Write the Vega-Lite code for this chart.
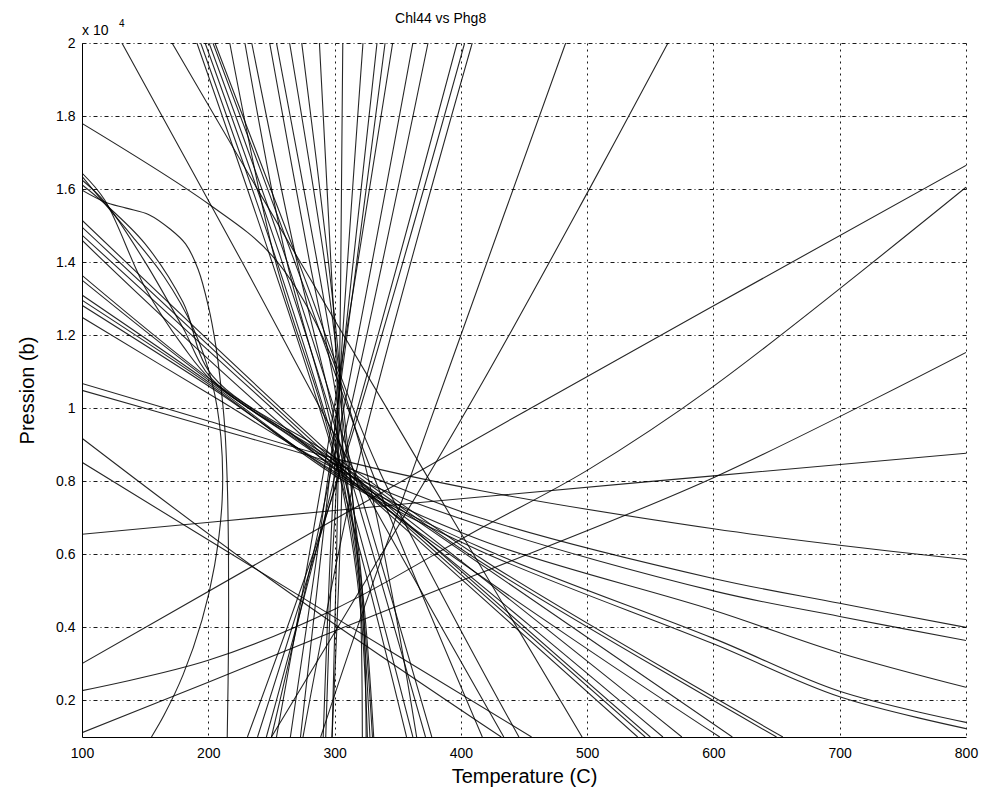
{
"$schema":"https://vega.github.io/schema/vega-lite/v6.json",
"width":884,"height":694,
"autosize":{"type":"none"},
"padding":{"left":82,"top":43,"right":16,"bottom":59},
"background":"white",
"config":{"view":{"stroke":null},
"axis":{"domainColor":"#000","domainWidth":1,"labelColor":"#000","titleColor":"#000","labelFont":"Liberation Sans","titleFont":"Liberation Sans","labelFontSize":14,"titleFontSize":20,"titleFontWeight":"normal","ticks":false,"grid":true,"gridColor":"#000","gridOpacity":0.9,"gridWidth":1,"labelFlush":false}},
"data":{"values":[
{"s":"D1","i":0,"T":100,"P":0.301},{"s":"D1","i":1,"T":450,"P":0.99},{"s":"D1","i":2,"T":800,"P":1.665},
{"s":"D2","i":0,"T":100,"P":0.227},{"s":"D2","i":1,"T":200,"P":0.31},{"s":"D2","i":2,"T":300,"P":0.45},{"s":"D2","i":3,"T":415,"P":0.67},{"s":"D2","i":4,"T":500,"P":0.83},{"s":"D2","i":5,"T":600,"P":1.06},{"s":"D2","i":6,"T":800,"P":1.605},
{"s":"D3","i":0,"T":100,"P":0.112},{"s":"D3","i":1,"T":200,"P":0.25},{"s":"D3","i":2,"T":300,"P":0.39},{"s":"D3","i":3,"T":415,"P":0.548},{"s":"D3","i":4,"T":600,"P":0.81},{"s":"D3","i":5,"T":800,"P":1.153},
{"s":"D4","i":0,"T":100,"P":0.655},{"s":"D4","i":1,"T":300,"P":0.72},{"s":"D4","i":2,"T":415,"P":0.757},{"s":"D4","i":3,"T":600,"P":0.815},{"s":"D4","i":4,"T":800,"P":0.877},
{"s":"R1","i":0,"T":289,"P":0.1},{"s":"R1","i":1,"T":322,"P":0.44},{"s":"R1","i":2,"T":400,"P":1.2},{"s":"R1","i":3,"T":483,"P":2.0},
{"s":"R2","i":0,"T":250,"P":0.1},{"s":"R2","i":1,"T":325,"P":0.53},{"s":"R2","i":2,"T":415,"P":1.058},{"s":"R2","i":3,"T":500,"P":1.589},{"s":"R2","i":4,"T":564,"P":2.0},
{"s":"B1","i":0,"T":298,"P":0.1},{"s":"B1","i":1,"T":303,"P":0.84},{"s":"B1","i":2,"T":306.5,"P":2.0},
{"s":"B2","i":0,"T":291,"P":0.1},{"s":"B2","i":1,"T":300,"P":0.84},{"s":"B2","i":2,"T":322.5,"P":2.0},
{"s":"B3","i":0,"T":273,"P":0.1},{"s":"B3","i":1,"T":297,"P":0.84},{"s":"B3","i":2,"T":333.6,"P":2.0},
{"s":"B4","i":0,"T":265,"P":0.1},{"s":"B4","i":1,"T":296,"P":0.84},{"s":"B4","i":2,"T":340,"P":2.0},
{"s":"B5","i":0,"T":254,"P":0.1},{"s":"B5","i":1,"T":292,"P":0.84},{"s":"B5","i":2,"T":346,"P":2.0},
{"s":"B6","i":0,"T":250,"P":0.1},{"s":"B6","i":1,"T":298,"P":0.84},{"s":"B6","i":2,"T":362,"P":2.0},
{"s":"B7","i":0,"T":246,"P":0.1},{"s":"B7","i":1,"T":302,"P":0.84},{"s":"B7","i":2,"T":374,"P":2.0},
{"s":"B8","i":0,"T":239,"P":0.1},{"s":"B8","i":1,"T":305,"P":0.84},{"s":"B8","i":2,"T":397,"P":2.0},
{"s":"B9","i":0,"T":231,"P":0.1},{"s":"B9","i":1,"T":306,"P":0.84},{"s":"B9","i":2,"T":403,"P":2.0},
{"s":"B10","i":0,"T":275,"P":0.1},{"s":"B10","i":1,"T":318,"P":0.84},{"s":"B10","i":2,"T":409,"P":2.0},
{"s":"A1","i":0,"T":131.6,"P":2.0},{"s":"A1","i":1,"T":226,"P":1.405},{"s":"A1","i":2,"T":320,"P":0.8},{"s":"A1","i":3,"T":434,"P":0.1},
{"s":"A2","i":0,"T":171.3,"P":2.0},{"s":"A2","i":1,"T":272,"P":1.405},{"s":"A2","i":2,"T":496,"P":0.1},
{"s":"A3","i":0,"T":191,"P":2.0},{"s":"A3","i":1,"T":250,"P":1.405},{"s":"A3","i":2,"T":302,"P":0.84},{"s":"A3","i":3,"T":357,"P":0.1},
{"s":"A4","i":0,"T":194,"P":2.0},{"s":"A4","i":1,"T":254,"P":1.405},{"s":"A4","i":2,"T":305,"P":0.84},{"s":"A4","i":3,"T":362,"P":0.1},
{"s":"A5","i":0,"T":197.5,"P":2.0},{"s":"A5","i":1,"T":258,"P":1.405},{"s":"A5","i":2,"T":310,"P":0.84},{"s":"A5","i":3,"T":372,"P":0.1},
{"s":"A6","i":0,"T":200.6,"P":2.0},{"s":"A6","i":1,"T":262,"P":1.405},{"s":"A6","i":2,"T":314,"P":0.84},{"s":"A6","i":3,"T":377,"P":0.1},
{"s":"A7","i":0,"T":203.7,"P":2.0},{"s":"A7","i":1,"T":268,"P":1.405},{"s":"A7","i":2,"T":328,"P":0.84},{"s":"A7","i":3,"T":417,"P":0.1},
{"s":"A8","i":0,"T":205.3,"P":2.0},{"s":"A8","i":1,"T":271,"P":1.405},{"s":"A8","i":2,"T":334,"P":0.84},{"s":"A8","i":3,"T":446,"P":0.1},
{"s":"A9","i":0,"T":217,"P":2.0},{"s":"A9","i":1,"T":253,"P":1.405},{"s":"A9","i":2,"T":290,"P":1.0},{"s":"A9","i":3,"T":305,"P":0.8},{"s":"A9","i":4,"T":320,"P":0.47},{"s":"A9","i":5,"T":326,"P":0.1},
{"s":"A10","i":0,"T":229,"P":2.0},{"s":"A10","i":1,"T":262,"P":1.405},{"s":"A10","i":2,"T":294,"P":1.0},{"s":"A10","i":3,"T":307,"P":0.8},{"s":"A10","i":4,"T":321,"P":0.47},{"s":"A10","i":5,"T":328,"P":0.1},
{"s":"A11","i":0,"T":234.4,"P":2.0},{"s":"A11","i":1,"T":270,"P":1.405},{"s":"A11","i":2,"T":298,"P":1.0},{"s":"A11","i":3,"T":309,"P":0.8},{"s":"A11","i":4,"T":322,"P":0.47},{"s":"A11","i":5,"T":330,"P":0.1},
{"s":"A12","i":0,"T":248.6,"P":2.0},{"s":"A12","i":1,"T":280,"P":1.405},{"s":"A12","i":2,"T":300,"P":1.06},{"s":"A12","i":3,"T":310,"P":0.8},{"s":"A12","i":4,"T":323,"P":0.47},{"s":"A12","i":5,"T":331,"P":0.1},
{"s":"A13","i":0,"T":254,"P":2.0},{"s":"A13","i":1,"T":286,"P":1.405},{"s":"A13","i":2,"T":303,"P":1.06},{"s":"A13","i":3,"T":311,"P":0.84},{"s":"A13","i":4,"T":322,"P":0.5},{"s":"A13","i":5,"T":325,"P":0.1},
{"s":"A14","i":0,"T":264.4,"P":2.0},{"s":"A14","i":1,"T":292,"P":1.405},{"s":"A14","i":2,"T":305,"P":1.06},{"s":"A14","i":3,"T":312,"P":0.84},{"s":"A14","i":4,"T":320,"P":0.5},{"s":"A14","i":5,"T":322,"P":0.1},
{"s":"A15","i":0,"T":274,"P":2.0},{"s":"A15","i":1,"T":295,"P":1.405},{"s":"A15","i":2,"T":305,"P":1.06},{"s":"A15","i":3,"T":306,"P":0.84},{"s":"A15","i":4,"T":303,"P":0.5},{"s":"A15","i":5,"T":298,"P":0.1},
{"s":"A16","i":0,"T":288,"P":2.0},{"s":"A16","i":1,"T":297,"P":1.405},{"s":"A16","i":2,"T":302,"P":1.06},{"s":"A16","i":3,"T":302,"P":0.84},{"s":"A16","i":4,"T":297,"P":0.5},{"s":"A16","i":5,"T":293,"P":0.1},
{"s":"C1","i":0,"T":100,"P":1.364},{"s":"C1","i":1,"T":205,"P":1.07},{"s":"C1","i":2,"T":303,"P":0.84},{"s":"C1","i":3,"T":575,"P":0.1},
{"s":"C2","i":0,"T":100,"P":1.351},{"s":"C2","i":1,"T":205,"P":1.065},{"s":"C2","i":2,"T":303,"P":0.83},{"s":"C2","i":3,"T":560,"P":0.1},
{"s":"C3","i":0,"T":100,"P":1.515},{"s":"C3","i":1,"T":303,"P":0.855},{"s":"C3","i":2,"T":550,"P":0.1},
{"s":"C4","i":0,"T":100,"P":1.496},{"s":"C4","i":1,"T":303,"P":0.845},{"s":"C4","i":2,"T":546,"P":0.1},
{"s":"C5","i":0,"T":100,"P":1.474},{"s":"C5","i":1,"T":303,"P":0.835},{"s":"C5","i":2,"T":540,"P":0.1},
{"s":"C6","i":0,"T":100,"P":1.46},{"s":"C6","i":1,"T":303,"P":0.825},{"s":"C6","i":2,"T":605,"P":0.1},
{"s":"C7","i":0,"T":100,"P":1.31},{"s":"C7","i":1,"T":205,"P":1.06},{"s":"C7","i":2,"T":303,"P":0.815},{"s":"C7","i":3,"T":415,"P":0.62},{"s":"C7","i":4,"T":600,"P":0.37},{"s":"C7","i":5,"T":700,"P":0.225},{"s":"C7","i":6,"T":800,"P":0.14},
{"s":"C8","i":0,"T":100,"P":1.296},{"s":"C8","i":1,"T":205,"P":1.055},{"s":"C8","i":2,"T":303,"P":0.81},{"s":"C8","i":3,"T":415,"P":0.61},{"s":"C8","i":4,"T":600,"P":0.355},{"s":"C8","i":5,"T":700,"P":0.21},{"s":"C8","i":6,"T":800,"P":0.123},
{"s":"C9","i":0,"T":100,"P":1.282},{"s":"C9","i":1,"T":205,"P":1.05},{"s":"C9","i":2,"T":303,"P":0.82},{"s":"C9","i":3,"T":415,"P":0.64},{"s":"C9","i":4,"T":600,"P":0.447},{"s":"C9","i":5,"T":700,"P":0.33},{"s":"C9","i":6,"T":800,"P":0.236},
{"s":"C10","i":0,"T":100,"P":1.249},{"s":"C10","i":1,"T":205,"P":1.03},{"s":"C10","i":2,"T":303,"P":0.83},{"s":"C10","i":3,"T":415,"P":0.68},{"s":"C10","i":4,"T":600,"P":0.5},{"s":"C10","i":5,"T":700,"P":0.43},{"s":"C10","i":6,"T":800,"P":0.364},
{"s":"C11","i":0,"T":100,"P":1.049},{"s":"C11","i":1,"T":200,"P":0.95},{"s":"C11","i":2,"T":303,"P":0.845},{"s":"C11","i":3,"T":415,"P":0.7},{"s":"C11","i":4,"T":600,"P":0.534},{"s":"C11","i":5,"T":700,"P":0.466},{"s":"C11","i":6,"T":800,"P":0.4},
{"s":"C12","i":0,"T":100,"P":1.068},{"s":"C12","i":1,"T":200,"P":0.965},{"s":"C12","i":2,"T":303,"P":0.86},{"s":"C12","i":3,"T":415,"P":0.775},{"s":"C12","i":4,"T":600,"P":0.67},{"s":"C12","i":5,"T":700,"P":0.625},{"s":"C12","i":6,"T":800,"P":0.586},
{"s":"F2","i":0,"T":100,"P":1.644},{"s":"F2","i":1,"T":118,"P":1.57},{"s":"F2","i":2,"T":150,"P":1.33},{"s":"F2","i":3,"T":180,"P":1.17},{"s":"F2","i":4,"T":203,"P":1.075},{"s":"F2","i":5,"T":303,"P":0.84},{"s":"F2","i":6,"T":615,"P":0.1},
{"s":"F3","i":0,"T":100,"P":1.625},{"s":"F3","i":1,"T":118,"P":1.565},{"s":"F3","i":2,"T":150,"P":1.4},{"s":"F3","i":3,"T":180,"P":1.22},{"s":"F3","i":4,"T":203,"P":1.08},{"s":"F3","i":5,"T":303,"P":0.85},{"s":"F3","i":6,"T":420,"P":0.57},{"s":"F3","i":7,"T":650,"P":0.1},
{"s":"F4","i":0,"T":100,"P":1.612},{"s":"F4","i":1,"T":118,"P":1.56},{"s":"F4","i":2,"T":150,"P":1.45},{"s":"F4","i":3,"T":180,"P":1.29},{"s":"F4","i":4,"T":203,"P":1.09},{"s":"F4","i":5,"T":303,"P":0.86},{"s":"F4","i":6,"T":420,"P":0.58},{"s":"F4","i":7,"T":655,"P":0.1},
{"s":"Fa","i":0,"T":100,"P":1.597},{"s":"Fa","i":1,"T":118,"P":1.565},{"s":"Fa","i":2,"T":135,"P":1.548},{"s":"Fa","i":3,"T":153,"P":1.53},{"s":"Fa","i":4,"T":170,"P":1.49},{"s":"Fa","i":5,"T":182,"P":1.45},{"s":"Fa","i":6,"T":192,"P":1.38},{"s":"Fa","i":7,"T":200,"P":1.28},{"s":"Fa","i":8,"T":206,"P":1.17},{"s":"Fa","i":9,"T":210,"P":1.06},{"s":"Fa","i":10,"T":213,"P":0.95},{"s":"Fa","i":11,"T":215,"P":0.8},{"s":"Fa","i":12,"T":216,"P":0.6},{"s":"Fa","i":13,"T":216,"P":0.35},{"s":"Fa","i":14,"T":215,"P":0.1},
{"s":"Fb","i":0,"T":100,"P":1.635},{"s":"Fb","i":1,"T":118,"P":1.56},{"s":"Fb","i":2,"T":140,"P":1.47},{"s":"Fb","i":3,"T":165,"P":1.36},{"s":"Fb","i":4,"T":188,"P":1.22},{"s":"Fb","i":5,"T":203,"P":1.07},{"s":"Fb","i":6,"T":210,"P":0.92},{"s":"Fb","i":7,"T":211,"P":0.75},{"s":"Fb","i":8,"T":205,"P":0.57},{"s":"Fb","i":9,"T":195,"P":0.42},{"s":"Fb","i":10,"T":180,"P":0.27},{"s":"Fb","i":11,"T":165,"P":0.16},{"s":"Fb","i":12,"T":155,"P":0.1},
{"s":"E1","i":0,"T":100,"P":0.918},{"s":"E1","i":1,"T":250,"P":0.53},{"s":"E1","i":2,"T":432,"P":0.1},
{"s":"E2","i":0,"T":100,"P":0.852},{"s":"E2","i":1,"T":280,"P":0.47},{"s":"E2","i":2,"T":456,"P":0.1},
{"s":"G1","i":0,"T":100,"P":1.78},{"s":"G1","i":1,"T":200,"P":1.56},{"s":"G1","i":2,"T":250,"P":1.42},{"s":"G1","i":3,"T":290,"P":1.2},{"s":"G1","i":4,"T":320,"P":0.9},{"s":"G1","i":5,"T":345,"P":0.5},{"s":"G1","i":6,"T":365,"P":0.1}
]},
"layer":[
{"mark":{"type":"line","clip":true,"interpolate":"catmull-rom","stroke":"#000","strokeWidth":1.1,"opacity":0.85},
"encoding":{
"x":{"field":"T","type":"quantitative","scale":{"domain":[100,800],"nice":false,"zero":false},
"axis":{"values":[100,200,300,400,500,600,700,800],"title":"Temperature (C)","labelPadding":9,"titlePadding":6,"gridDash":[2,4]}},
"y":{"field":"P","type":"quantitative","scale":{"domain":[0.1,2],"nice":false,"zero":false},
"axis":{"values":[0.2,0.4,0.6,0.8,1,1.2,1.4,1.6,1.8,2],"format":"~g","title":"Pression (b)","labelPadding":7,"titlePadding":18,"gridDash":[4,3,1,3]}},
"detail":{"field":"s"},"order":{"field":"i"}}},
{"data":{"values":[{}]},"mark":{"type":"text","text":"Chl44 vs Phg8","align":"center","baseline":"alphabetic","dy":-20,"fontSize":14,"font":"Liberation Sans","color":"#000"},
"encoding":{"x":{"datum":384,"type":"quantitative"},"y":{"datum":2,"type":"quantitative"}}},
{"data":{"values":[{}]},"mark":{"type":"text","text":"x 10","align":"left","baseline":"alphabetic","dy":-8,"fontSize":14,"font":"Liberation Sans","color":"#000"},
"encoding":{"x":{"datum":100,"type":"quantitative"},"y":{"datum":2,"type":"quantitative"}}},
{"data":{"values":[{}]},"mark":{"type":"text","text":"4","align":"left","baseline":"alphabetic","dx":37,"dy":-16,"fontSize":10,"font":"Liberation Sans","color":"#000"},
"encoding":{"x":{"datum":100,"type":"quantitative"},"y":{"datum":2,"type":"quantitative"}}}
]
}
